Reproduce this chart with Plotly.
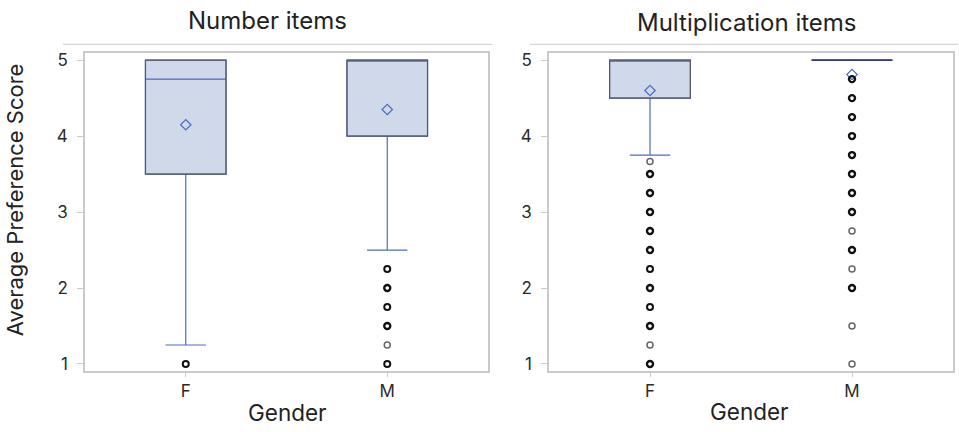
import plotly.graph_objects as go

# Summary statistics per panel and gender
genders = ["F", "M"]

number_q1 = [3.5, 4.0]
number_median = [4.75, 5.0]
number_q3 = [5.0, 5.0]
number_lower = [1.25, 2.5]
number_upper = [5.0, 5.0]
number_mean = [4.15, 4.35]
number_out_f = [1.0]
number_out_f_n = [2]
number_out_m = [2.25, 2.0, 1.75, 1.5, 1.25, 1.0]
number_out_m_n = [2, 3, 2, 3, 1, 2]

mult_q1 = [4.5, 5.0]
mult_median = [5.0, 5.0]
mult_q3 = [5.0, 5.0]
mult_lower = [3.75, 5.0]
mult_upper = [5.0, 5.0]
mult_mean = [4.6, 4.81]
mult_out_f = [3.667, 3.5, 3.25, 3.0, 2.75, 2.5, 2.25, 2.0, 1.75, 1.5, 1.25, 1.0]
mult_out_f_n = [1, 3, 3, 3, 3, 3, 2, 3, 2, 3, 1, 3]
mult_out_m = [4.75, 4.5, 4.25, 4.0, 3.75, 3.5, 3.25, 3.0, 2.75, 2.5, 2.25, 2.0, 1.5, 1.0]
mult_out_m_n = [4, 3, 3, 3, 3, 3, 3, 3, 1, 3, 1, 3, 1, 1]

FONT = "Inter"
BLUE = "#4a6cc4"
FILL = "#cfd9ea"
EDGE = "#555a66"
FRAME = "#c9c9c9"

fig = go.Figure()

panels = [
    ("x", "y", number_q1, number_median, number_q3, number_lower, number_upper,
     number_mean, [(number_out_f, number_out_f_n), (number_out_m, number_out_m_n)]),
    ("x2", "y2", mult_q1, mult_median, mult_q3, mult_lower, mult_upper,
     mult_mean, [(mult_out_f, mult_out_f_n), (mult_out_m, mult_out_m_n)]),
]

half = 0.2
shapes = []
for xa, ya, q1, med, q3, lo, hi, mean, outs in panels:
    pos = list(range(len(genders)))
    fig.add_trace(go.Box(
        x=pos, q1=q1, median=med, q3=q3, lowerfence=lo, upperfence=hi,
        xaxis=xa, yaxis=ya, fillcolor=FILL, line=dict(color=BLUE, width=1.2),
        whiskerwidth=0.5, width=2 * half, boxpoints=False, showlegend=False,
        hoverinfo="skip",
    ))
    for i in pos:
        flat = q1[i] == q3[i]
        shapes.append(dict(type="rect", xref=xa, yref=ya,
                           x0=i - half, x1=i + half, y0=q1[i], y1=q3[i],
                           line=dict(color="#2f3f7a" if flat else EDGE,
                                     width=1.8 if flat else 1.2),
                           layer="above"))
    fig.add_trace(go.Scatter(
        x=pos, y=mean, xaxis=xa, yaxis=ya, mode="markers",
        marker=dict(symbol="diamond-open", size=8, color=BLUE,
                    line=dict(width=1.2)),
        showlegend=False, hoverinfo="skip",
    ))
    for i, (vals, counts) in enumerate(outs):
        fig.add_trace(go.Scatter(
            x=[i] * len(vals), y=vals, xaxis=xa, yaxis=ya, mode="markers",
            marker=dict(symbol="circle-open", size=6,
                        color=["#111" if c > 1 else "#666" for c in counts],
                        line=dict(width=[min(1 + 0.5 * c, 2.4) for c in counts])),
            showlegend=False, hoverinfo="skip",
        ))

axis_common = dict(showline=True, linecolor=FRAME, linewidth=1.5, mirror=True,
                   showgrid=False, zeroline=False, ticks="outside",
                   tickcolor=FRAME, tickfont=dict(family=FONT, size=17, color="#2a2a2a"))

ydom = [(432 - 373) / 432, (432 - 51) / 432]
fig.update_layout(
    width=959, height=432, margin=dict(l=0, r=0, t=0, b=0),
    plot_bgcolor="white", paper_bgcolor="white",
    xaxis=dict(domain=[85 / 959, 488 / 959], range=[-0.5, 1.5],
               tickvals=[0, 1], ticktext=genders, ticklen=4, **axis_common),
    xaxis2=dict(domain=[549 / 959, 953 / 959], range=[-0.5, 1.5],
                tickvals=[0, 1], ticktext=genders, ticklen=4, **axis_common),
    yaxis=dict(domain=ydom, range=[0.91, 5.09], tickvals=[1, 2, 3, 4, 5],
               ticklen=6, ticklabelstandoff=6, **axis_common),
    yaxis2=dict(domain=ydom, range=[0.91, 5.09], tickvals=[1, 2, 3, 4, 5],
                ticklen=6, ticklabelstandoff=6, anchor="x2", **axis_common),
)
fig.update_layout(xaxis2_anchor="y2")

# Separator rules beneath the panel titles
shapes.append(dict(type="line", xref="paper", yref="paper",
                   x0=63 / 959, x1=492 / 959, y0=1 - 42 / 432, y1=1 - 42 / 432,
                   line=dict(color="#d6d6d6", width=1.2)))
shapes.append(dict(type="line", xref="paper", yref="paper",
                   x0=530 / 959, x1=958 / 959, y0=1 - 42 / 432, y1=1 - 42 / 432,
                   line=dict(color="#d6d6d6", width=1.2)))
fig.update_layout(shapes=shapes)

def note(text, x, y, size, angle=0):
    fig.add_annotation(text=text, xref="paper", yref="paper", x=x / 959,
                       y=1 - y / 432, showarrow=False, textangle=angle,
                       xanchor="center", yanchor="middle",
                       font=dict(family=FONT, size=size, color="#222"))

note("Number items", 267, 18, 24)
note("Multiplication items", 747, 20, 24)
note("Gender", 287, 415, 22.5)
note("Gender", 749, 414, 22.5)
note("Average Preference Score", 15, 200, 22, angle=-90)

fig.write_html("out.html")
